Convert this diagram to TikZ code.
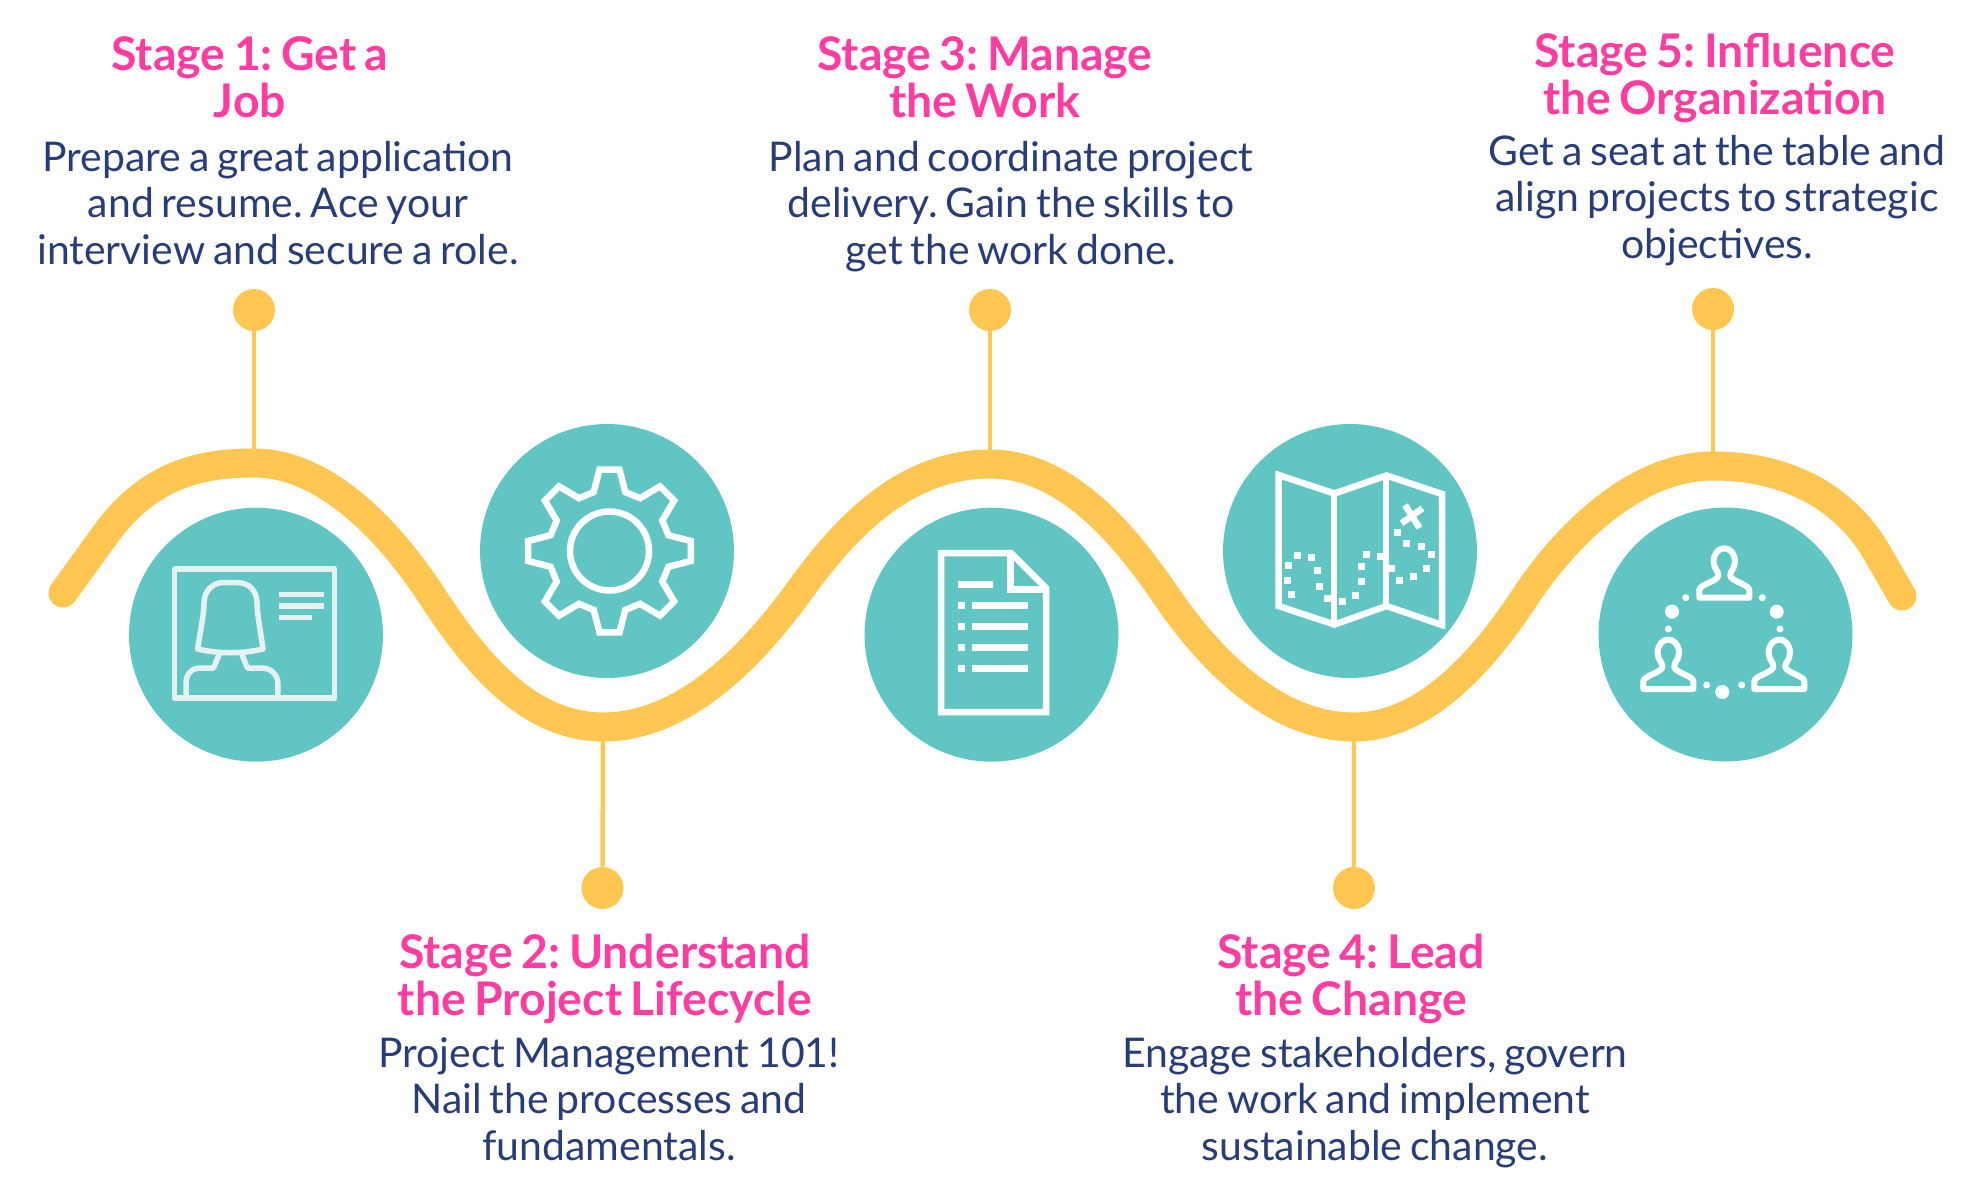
\documentclass[tikz,border=0pt]{standalone}
\usepackage{fontspec}
\setmainfont[WordSpace=0.75]{Lato}
\frenchspacing
\definecolor{waveyellow}{RGB}{255, 198, 82}
\definecolor{bubbleteal}{RGB}{97, 198, 195}
\definecolor{stagepink}{RGB}{255, 60, 160}
\definecolor{textnavy}{RGB}{40, 60, 120}
\definecolor{cardwhite}{RGB}{230, 242, 242}

\tikzset{
  personicon/.pic={
    \draw[icon, line width=0.12cm, line join=round]
      (-25,0) -- (25,0) -- (25,-7.7) .. controls (25,-13) and (8,-16) .. (6,-21.7)
      .. controls (5,-26) and (10.7,-29) .. (10.7,-36) .. controls (10.7,-44) and (6,-49.4) .. (0,-49.4)
      .. controls (-6,-49.4) and (-10.7,-44) .. (-10.7,-36) .. controls (-10.7,-29) and (-5,-26) .. (-6,-21.7)
      .. controls (-8,-16) and (-25,-13) .. (-25,-7.7) -- cycle;
  }
}

\begin{document}
\begin{tikzpicture}[
  x=0.02cm, y=-0.02cm,
  bubble/.style={circle, fill=bubbleteal, inner sep=0pt, minimum size=5.08cm},
  knob/.style={circle, fill=waveyellow, inner sep=0pt, minimum size=0.84cm},
  stem/.style={draw=waveyellow, line width=0.09cm},
  wave/.style={draw=waveyellow, line width=0.58cm, line cap=round},
  icon/.style={draw=white, line width=0.13cm, miter limit=4},
  cardline/.style={draw=cardwhite, line width=0.11cm, line join=round},
  headtxt/.style={anchor=base, inner sep=0pt, align=center, text=stagepink,
    font=\fontsize{26.4}{26.7}\selectfont\bfseries},
  bodytxt/.style={anchor=base, inner sep=0pt, align=center, text=textnavy,
    font=\fontsize{23.3}{26.2}\selectfont}
]
  \useasboundingbox (0,0) rectangle (1984,1200);

  \coordinate (wavestart) at (63,593);
  \coordinate (wavetop1) at (254,463);
  \coordinate (wavelow2) at (603,727);
  \coordinate (wavetop3) at (990,464);
  \coordinate (wavelow4) at (1354,727);
  \coordinate (wavetop5) at (1713,466);
  \coordinate (waveend) at (1902,596);

  \draw[wave] (wavestart) -- (105,535) .. controls (150,472) and (205,463) .. (wavetop1)
    .. controls (330,463) and (395,540) .. (430,593)
    .. controls (465,646) and (520,727) .. (wavelow2)
    .. controls (690,727) and (760,645) .. (800,590)
    .. controls (840,535) and (900,464) .. (wavetop3)
    .. controls (1070,464) and (1130,543) .. (1167,597)
    .. controls (1204,651) and (1270,727) .. (wavelow4)
    .. controls (1430,727) and (1490,650) .. (1525,597)
    .. controls (1560,544) and (1630,466) .. (wavetop5)
    .. controls (1785,466) and (1840,495) .. (1873,546) -- (waveend);

  \node[knob] (knob1) at (254,310) {};
  \node[knob] (knob2) at (602.5,888) {};
  \node[knob] (knob3) at (990,310) {};
  \node[knob] (knob4) at (1354,888) {};
  \node[knob] (knob5) at (1713,309) {};

  \draw[stem] (knob1) -- (wavetop1);
  \draw[stem] (knob2) -- (wavelow2);
  \draw[stem] (knob3) -- (wavetop3);
  \draw[stem] (knob4) -- (wavelow4);
  \draw[stem] (knob5) -- (wavetop5);

  \node[bubble] (job) at (256,634.7) {};
  \node[bubble] (gear) at (607,551) {};
  \node[bubble] (doc) at (991.5,634.7) {};
  \node[bubble] (map) at (1350,551) {};
  \node[bubble] (team) at (1725.5,634.5) {};

  % id card
  \draw[cardline] (174.5,569) rectangle (334.7,698);
  \draw[cardline] (197.6,649) .. controls (201,628) and (204,613) .. (204,603)
    .. controls (204,590) and (214,582.7) .. (222,582.7) -- (238,582.7)
    .. controls (248,582.7) and (257,590) .. (257,603) .. controls (257,613) and (260,628) .. (263,649)
    .. controls (242,654) and (219,654) .. cycle;
  \draw[cardline] (219.3,654) -- (213.6,668) -- (200,668) .. controls (191,668) and (186,675) .. (186,683) -- (186,697);
  \draw[cardline] (241.8,654) -- (247.4,668) -- (262,668) .. controls (271,668) and (277.8,675) .. (277.8,683) -- (277.8,697);
  \draw[cardline] (278.7,594.7) -- (323.8,594.7);
  \draw[cardline] (278.7,606) -- (323.8,606);
  \draw[cardline] (278.7,617.7) -- (312,617.7);

  % gear
  \begin{scope}[shift={(609.5,551)}]
    \draw[icon] (0,0) circle (39.5);
    \draw[icon, line join=miter] (-7:82)
      \foreach \ang in {0,45,...,315} { -- (\ang-7:82) -- (\ang+7:82) -- (\ang+15:61) -- (\ang+30:61) } -- cycle;
  \end{scope}

  % document
  \draw[icon] (941,553) -- (1011,553) -- (1046,588) -- (1046,712) -- (941,712) -- cycle;
  \draw[icon] (1010.4,553) -- (1010.4,589.5) -- (1046,589.5);
  \draw[icon] (958,584.3) -- (992.6,584.3);
  \foreach \liney in {605.7,626.7,647.7,668.7} {
    \draw[icon] (958,\liney) -- (965,\liney);
    \draw[icon] (971.8,\liney) -- (1028.2,\liney);
  }

  % map
  \draw[icon] (1278.5,475) -- (1334.5,493.5) -- (1386.5,475.5) -- (1442,494) -- (1442,625)
    -- (1386.5,606) -- (1334.5,624.5) -- (1278.5,606) -- cycle;
  \draw[icon] (1334,493.5) -- (1334,624.5);
  \draw[icon] (1386,475.5) -- (1386,606);
  \draw[icon] (1405,505) -- (1419.5,528);
  \draw[icon] (1422.4,508.3) -- (1401.6,523.3);
  \foreach \dotx/\doty in {1297.5/555,1311.8/557.3,1317/570.7,1319.2/586,1327/598.3,1342.2/601.7,
      1355.2/595.7,1361.7/581.7,1361.7/566.7,1366.5/554,1380.3/556.7,1391.6/568.3,1399.4/580,
      1413.3/576,1426.7/568.3,1431/554,1421/546,1406/543.3,1397.2/532.7,1288.4/565.7,
      1287.5/580.7,1291.9/594.3}
    \fill[white] (\dotx-3.5,\doty-3.5) rectangle ++(7,7);

  % team
  \pic at (1724.3,597.7) {personicon};
  \pic at (1668.3,689) {personicon};
  \pic at (1779.3,689) {personicon};
  \foreach \dotx/\doty in {1672/611.7,1776.7/611.7,1722.3/692}
    \fill[white] (\dotx,\doty) circle (7);
  \foreach \dotx/\doty in {1685.7/597.7,1762.3/597.7,1668.3/629,1780/629,1706.7/685,1741.7/685}
    \fill[white] (\dotx,\doty) circle (3.5);

  \node[headtxt] (head1) at (250,117) {Stage 1: Get a\\Job};
  \node[bodytxt] (body1) at (278,264) {Prepare a great application\\and resume. Ace your\\interview and secure a role.};
  \node[headtxt] (head2) at (605,1015) {Stage 2: Understand\\the Project Lifecycle};
  \node[bodytxt] (body2) at (609,1160) {Project Management 101!\\Nail the processes and\\fundamentals.};
  \node[headtxt] (head3) at (985,117) {Stage 3: Manage\\the Work};
  \node[bodytxt] (body3) at (1011,264) {Plan and coordinate project\\delivery. Gain the skills to\\get the work done.};
  \node[headtxt] (head4) at (1351,1015) {Stage 4: Lead\\the Change};
  \node[bodytxt] (body4) at (1375,1160) {Engage stakeholders, govern\\the work and implement\\sustainable change.};
  \node[headtxt] (head5) at (1715,114) {Stage 5: Influence\\the Organization};
  \node[bodytxt] (body5) at (1717,258) {Get a seat at the table and\\align projects to strategic\\objectives.};
\end{tikzpicture}
\end{document}
